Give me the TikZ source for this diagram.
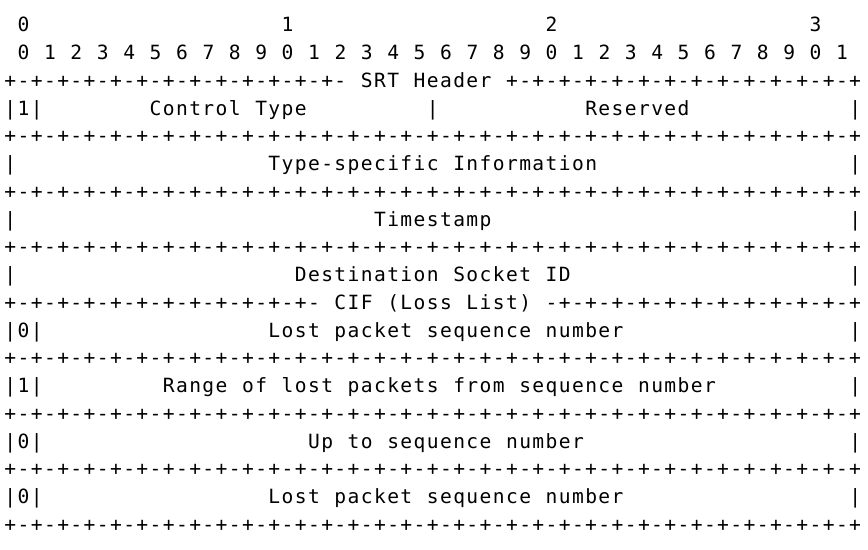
\documentclass[tikz,border=0pt]{standalone}
\usepackage{fontspec}
\newfontfamily\asciifont{DejaVu Sans Mono}
\newlength\cw
\setlength\cw{6.6pt}
% one fixed-width cell per character
\newcommand\cells[1]{\cellsnext#1\relax}
\newcommand\cellsnext[1]{\ifx\relax#1\else\makebox[\cw]{#1}\expandafter\cellsnext\fi}
\newcommand\skipc[1]{\hspace*{#1\cw}}
\newcommand\seprun[2]{\foreach \i in {1,...,#2}{\cells{#1}}}

\begin{document}
\begin{tikzpicture}[x=6.6pt,y=-13.875pt,
  ascii/.style={anchor=base west,inner sep=0pt,font=\fontsize{9.8pt}{11pt}\asciifont}]
\useasboundingbox[fill=white] (-1.7pt,16pt) rectangle (432.3pt,-259pt);
% bit ruler
\foreach \tens in {0,...,3}
  \node[ascii] (ten\tens) at (20*\tens+1,0) {\cells{\tens}};
\foreach \b in {0,...,31}{
  \pgfmathtruncatemacro\digit{mod(\b,10)}
  \node[ascii] (bit\b) at (2*\b+1,1) {\cells{\digit}};
}
% header
\node[ascii] (srthdr) at (0,2) {\seprun{+-}{13}\cells{~SRT~Header~}\seprun{+-}{13}\cells{+}};
\node[ascii] (ctype) at (0,3) {\cells{|1|}\skipc{8}\cells{Control~Type}\skipc{9}\cells{|}\skipc{11}\cells{Reserved}\skipc{12}\cells{|}};
\node[ascii] (tsinfo) at (0,5) {\cells{|}\skipc{19}\cells{Type-specific~Information}\skipc{19}\cells{|}};
\node[ascii] (tstamp) at (0,7) {\cells{|}\skipc{27}\cells{Timestamp}\skipc{27}\cells{|}};
\node[ascii] (dstid) at (0,9) {\cells{|}\skipc{21}\cells{Destination~Socket~ID}\skipc{21}\cells{|}};
% loss list
\node[ascii] (cifhdr) at (0,10) {\seprun{+-}{12}\cells{~CIF~(Loss~List)~}\seprun{-+}{12}};
\node[ascii] (lost1) at (0,11) {\cells{|0|}\skipc{17}\cells{Lost~packet~sequence~number}\skipc{17}\cells{|}};
\node[ascii] (range) at (0,13) {\cells{|1|}\skipc{9}\cells{Range~of~lost~packets~from~sequence~number}\skipc{10}\cells{|}};
\node[ascii] (upto) at (0,15) {\cells{|0|}\skipc{20}\cells{Up~to~sequence~number}\skipc{20}\cells{|}};
\node[ascii] (lost2) at (0,17) {\cells{|0|}\skipc{17}\cells{Lost~packet~sequence~number}\skipc{17}\cells{|}};
% separator lines
\foreach \r in {4,6,8,12,14,16,18}
  \node[ascii] (sep\r) at (0,\r) {\seprun{+-}{32}\cells{+}};
\end{tikzpicture}
\end{document}
